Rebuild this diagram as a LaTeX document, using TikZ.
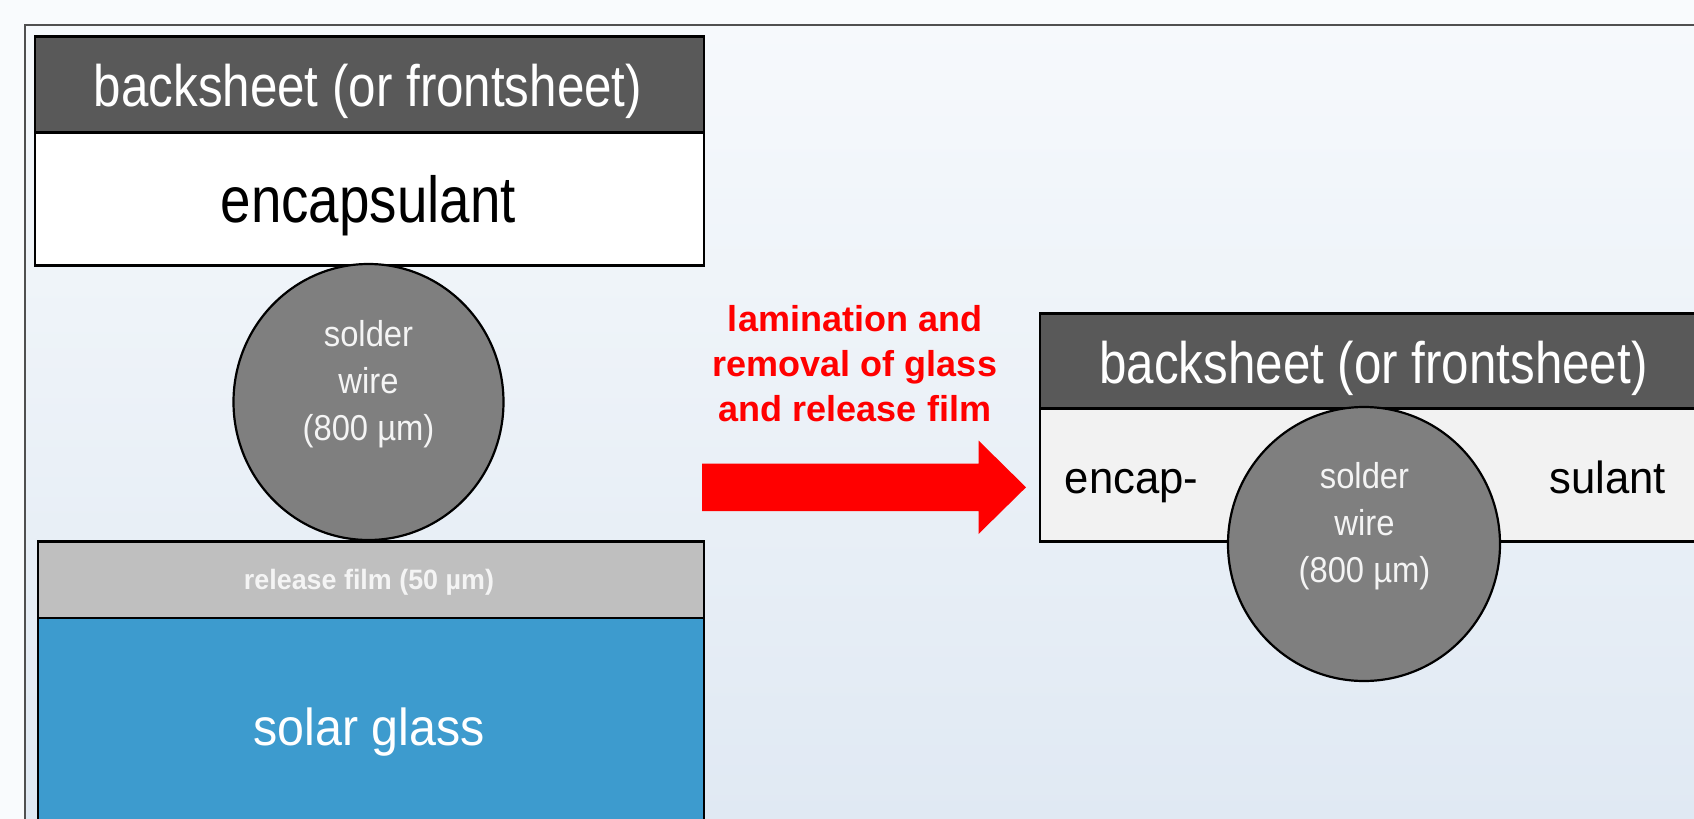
\documentclass[tikz,border=0pt]{standalone}
\usepackage{fontspec}
\setmainfont{Liberation Sans}
\usepackage{graphicx}
\usetikzlibrary{shapes.geometric}

\definecolor{pagebg}{HTML}{F9FBFD}
\definecolor{bgtop}{HTML}{F6F9FC}
\definecolor{bgmid}{HTML}{D4E2EF}
\definecolor{bgbot}{HTML}{E0E9F3}
\definecolor{framegray}{HTML}{505050}
\definecolor{sheetgray}{HTML}{595959}
\definecolor{wiregray}{HTML}{7F7F7F}
\definecolor{filmgray}{HTML}{BFBFBF}
\definecolor{glassblue}{HTML}{3D9BCE}
\definecolor{encgray}{HTML}{F2F2F2}
\definecolor{arrowred}{HTML}{FF0000}
\definecolor{lighttext}{HTML}{F4F4F4}

\newcommand\sheetfont{\fontsize{29.25pt}{35pt}\selectfont}
\newcommand\encfont{\fontsize{32.5pt}{39pt}\selectfont}
\newcommand\splitfont{\fontsize{22.5pt}{27pt}\selectfont}
\newcommand\wirefont{\fontsize{18pt}{20pt}\selectfont}
\newcommand\filmfont{\fontsize{14pt}{16pt}\selectfont\bfseries}
\newcommand\glassfont{\fontsize{26pt}{30pt}\selectfont}
\newcommand\stepfont{\fontsize{18pt}{22pt}\selectfont\bfseries}

\begin{document}
\begin{tikzpicture}[x=0.5pt,y=-0.5pt,
  layer/.style={draw=black, line width=1.3pt, rectangle, inner sep=0pt, anchor=north west},
  wire/.style={draw=black, line width=1.1pt, ellipse, inner sep=0pt, fill=wiregray},
  txt/.style={inner sep=0pt, anchor=base},
  wiretxt/.style={txt, text=lighttext, font=\wirefont}
]
\useasboundingbox (0,0) rectangle (1694,819);
\clip (0,0) rectangle (1694,819);

% page and framed panel
\fill[pagebg] (0,0) rectangle (1694,819);
\shade[top color=bgtop, middle color=bgmid, bottom color=bgbot] (25,25) rectangle (1694,819);
\draw[framegray, line width=1pt] (1720,25) -- (25,25) -- (25,840);

% ---------- stack before lamination ----------
\node[layer, fill=sheetgray, minimum width=334.5pt, minimum height=48pt] (bsL) at (33.5,35) {};
\node[layer, fill=white, minimum width=334.5pt, minimum height=66.5pt] (encL) at (33.5,131) {};
\node[layer, fill=glassblue, minimum width=333pt, minimum height=115pt] (glassL) at (36.5,616.5) {};
\node[layer, fill=filmgray, minimum width=333pt, minimum height=38.25pt] (filmL) at (36.5,540) {};
\node[wire, minimum width=135pt, minimum height=138pt] (wireL) at (368.5,402) {};

\node[txt, text=white, font=\sheetfont] (bsLtext) at (368,106.5) {\scalebox{0.843}[1]{backsheet (or frontsheet)}};
\node[txt, text=black, font=\encfont] (encLtext) at (368.3,222) {\scalebox{0.842}[1]{encapsulant}};
\node[wiretxt] (wireL1) at (368.5,346) {\scalebox{0.91}[1]{solder}};
\node[wiretxt] (wireL2) at (368.5,393) {\scalebox{0.91}[1]{wire}};
\node[wiretxt] (wireL3) at (368.5,440) {\scalebox{0.91}[1]{(800 µm)}};
\node[txt, text=lighttext, font=\filmfont] (filmtext) at (369,589) {\scalebox{0.96}[1]{release film (50 µm)}};
\node[txt, text=white, font=\glassfont] (glasstext) at (369,745) {\scalebox{0.93}[1]{solar glass}};

% ---------- process arrow ----------
\coordinate (arrowtail) at (702,487.3);
\coordinate (arrowtip) at (1026,487.3);
\fill[arrowred] (arrowtail) ++(0,-23.8) -- ++(276.5,0) -- ++(0,-23) -- (arrowtip)
  -- ++(-47.5,46.7) -- ++(0,-23) -- ++(-276.5,0) -- cycle;
\node[txt, text=arrowred, font=\stepfont] (step1) at (855,331.7) {lamination and};
\node[txt, text=arrowred, font=\stepfont] (step2) at (855,376.7) {removal of glass};
\node[txt, text=arrowred, font=\stepfont] (step3) at (855,421.7) {and release film};

% ---------- laminated result ----------
\node[layer, fill=sheetgray, minimum width=340pt, minimum height=47.5pt] (bsR) at (1038.5,312) {};
\node[layer, fill=encgray, minimum width=340pt, minimum height=66.5pt] (encR) at (1038.5,407) {};
\node[wire, minimum width=136pt, minimum height=137pt] (wireR) at (1364,544) {};

\node[txt, text=white, font=\sheetfont] (bsRtext) at (1373.5,383) {\scalebox{0.843}[1]{backsheet (or frontsheet)}};
\node[txt, text=black, font=\splitfont] (encRa) at (1131.7,493.3) {\scalebox{0.97}[1]{encap-}};
\node[txt, text=black, font=\splitfont] (encRb) at (1607.5,493.3) {\scalebox{0.97}[1]{sulant}};
\node[wiretxt] (wireR1) at (1364.5,488) {\scalebox{0.91}[1]{solder}};
\node[wiretxt] (wireR2) at (1364.5,535) {\scalebox{0.91}[1]{wire}};
\node[wiretxt] (wireR3) at (1364.5,582) {\scalebox{0.91}[1]{(800 µm)}};
\end{tikzpicture}
\end{document}
